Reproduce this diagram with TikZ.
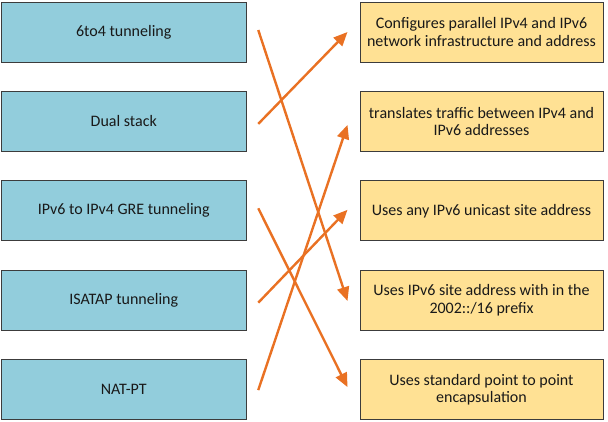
\documentclass[tikz,border=0pt]{standalone}
\usepackage{fontspec}
\setmainfont{Carlito}
\usetikzlibrary{arrows.meta,calc}
\definecolor{leftfill}{RGB}{146,205,220}
\definecolor{rightfill}{RGB}{255,225,148}
\definecolor{boxline}{RGB}{60,60,60}
\definecolor{arrowcol}{RGB}{233,113,35}
\begin{document}
\begin{tikzpicture}[x=1pt,y=-1pt,
  leftbox/.style={draw=boxline,line width=1pt,fill=leftfill,minimum width=245pt,minimum height=60pt,inner sep=0pt,align=center,font=\fontsize{16}{17.5}\selectfont,text=black!90},
  rightbox/.style={draw=boxline,line width=1pt,fill=rightfill,minimum width=243pt,minimum height=60pt,inner sep=0pt,align=center,font=\fontsize{16}{17.5}\selectfont,text=black!90},
  link/.style={draw=arrowcol,line width=2.4pt,-{Triangle[length=14pt,width=12pt]}}]
\useasboundingbox (0,0) rectangle (608,421);
\node[leftbox] (L1) at (123.75,32) {6to4 tunneling};
\node[leftbox] (L2) at (123.75,121.4) {Dual stack};
\node[leftbox] (L3) at (123.75,210.8) {IPv6 to IPv4 GRE tunneling};
\node[leftbox] (L4) at (123.75,300.2) {ISATAP tunneling};
\node[leftbox] (L5) at (123.75,389.6) {NAT-PT};
\node[rightbox] (R1) at (481.5,32) {Configures parallel IPv4 and IPv6\\network infrastructure and address};
\node[rightbox] (R2) at (481.5,121.4) {translates traffic between IPv4 and\\IPv6 addresses};
\node[rightbox] (R3) at (481.5,210.8) {Uses any IPv6 unicast site address};
\node[rightbox] (R4) at (481.5,300.2) {Uses IPv6 site address with in the\\2002::/16 prefix};
\node[rightbox] (R5) at (481.5,389.6) {Uses standard point to point\\encapsulation};
\coordinate (s1) at ($(L1.east)+(11.5,-2)$);
\coordinate (s2) at ($(L2.east)+(11.5,2.5)$);
\coordinate (s3) at ($(L3.east)+(11.5,-2.5)$);
\coordinate (s4) at ($(L4.east)+(11.5,2.5)$);
\coordinate (s5) at ($(L5.east)+(11.5,0.5)$);
\coordinate (e1) at ($(R1.west)+(-12,0)$);
\coordinate (e2) at ($(R2.west)+(-12,3.5)$);
\coordinate (e3) at ($(R3.west)+(-12,-1)$);
\coordinate (e4) at ($(R4.west)+(-12,0.8)$);
\coordinate (e5) at ($(R5.west)+(-12,-2.5)$);
\draw[link] (s1) -- (e4);
\draw[link] (s2) -- (e1);
\draw[link] (s3) -- (e5);
\draw[link] (s4) -- (e3);
\draw[link] (s5) -- (e2);
\end{tikzpicture}
\end{document}
